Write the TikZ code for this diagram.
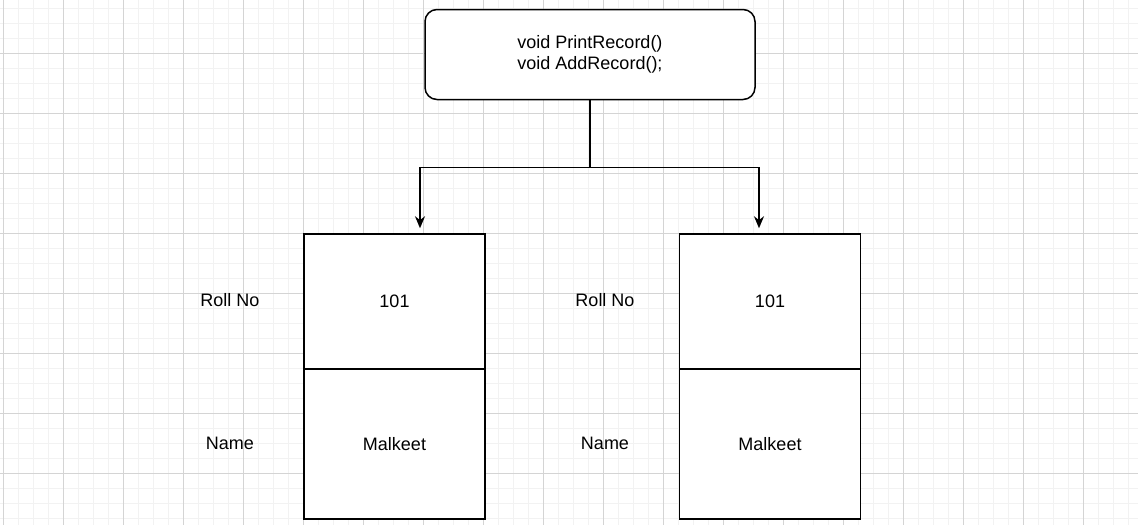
\documentclass[tikz,border=0pt]{standalone}
\usepackage{fontspec}
\setmainfont{Liberation Sans}
\usetikzlibrary{arrows.meta}

\tikzset{
  minor grid/.style={draw=black!5, line width=1pt},
  major grid/.style={draw=black!17, line width=1pt},
  methodbox/.style={draw, line width=1.5pt, fill=white, rounded corners=12pt,
    minimum width=330pt, minimum height=90pt, align=center,
    font=\fontsize{18}{21}\selectfont},
  field/.style={draw, line width=1.5pt, fill=white, minimum width=181pt,
    font=\fontsize{18}{21}\selectfont},
  fieldname/.style={font=\fontsize{18}{21}\selectfont},
  link/.style={line width=1.5pt, -{Stealth[length=12pt,width=10pt]}}
}

\begin{document}
\begin{tikzpicture}[x=1pt,y=-1pt]
		\useasboundingbox (0,0) rectangle (1138,525);
		%% Background grid
		\fill[white] (0,0) rectangle (1138,525);
		\foreach \x in {3.3,18.3,...,1138} \draw[minor grid] (\x,0) -- (\x,525);
		\foreach \y in {8.3,23.3,...,525} \draw[minor grid] (0,\y) -- (1138,\y);
		\foreach \x in {3.3,63.3,...,1138} \draw[major grid] (\x,0) -- (\x,525);
		\foreach \y in {53.3,113.3,...,525} \draw[major grid] (0,\y) -- (1138,\y);

		%% Member functions
		\node[methodbox] (methods) at (590,54.5) {void PrintRecord()\\void AddRecord();};

		%% First record
		\node[field, minimum height=135pt] (roll1) at (394.5,301.5) {101};
		\node[field, minimum height=150pt] (name1) at (394.5,444) {Malkeet};
		\node[fieldname] (rolllabel1) at (230,300) {Roll No};
		\node[fieldname] (namelabel1) at (230,443) {Name};

		%% Second record
		\node[field, minimum height=135pt] (roll2) at (770,301.5) {101};
		\node[field, minimum height=150pt] (name2) at (770,444) {Malkeet};
		\node[fieldname] (rolllabel2) at (605,300) {Roll No};
		\node[fieldname] (namelabel2) at (605,443) {Name};

		% Shared functions go to both records
		\draw[link] (methods.south) -- ++(0,67) coordinate (fork)
			-| ([xshift=25.5pt,yshift=5pt]roll1.north);
		\draw[link] (fork) -| ([xshift=-11pt,yshift=5pt]roll2.north);
	\end{tikzpicture}
\end{document}
